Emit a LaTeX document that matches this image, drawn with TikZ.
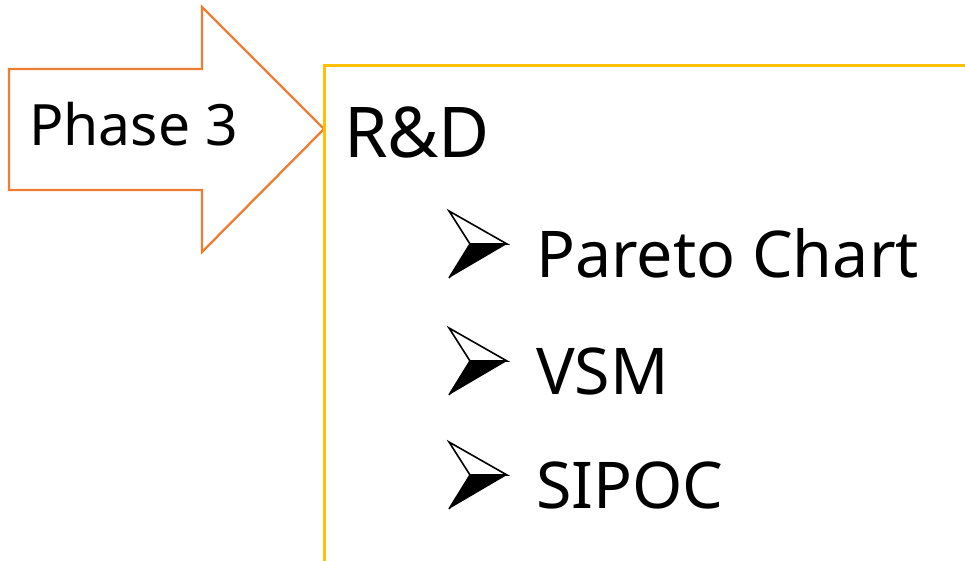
\documentclass[tikz,border=0pt]{standalone}
\usepackage{fontspec}
\setmainfont{Noto Sans}
\definecolor{phaseorange}{HTML}{ED7D31}
\definecolor{panelgold}{HTML}{FFC000}
\begin{document}
\begin{tikzpicture}[x=1pt,y=-1pt,
  phasetxt/.style={anchor=base west,inner sep=0pt,font=\fontsize{57}{60}\selectfont},
  headtxt/.style={anchor=base west,inner sep=0pt,font=\fontsize{70}{74}\selectfont},
  itemtxt/.style={anchor=base west,inner sep=0pt,font=\fontsize{64.5}{68}\selectfont},
  bullet/.pic={
    \draw[line width=1.6pt,line join=miter] (0,-33) -- (58,0) -- (21,0) -- cycle;
    \fill[black] (21,0) -- (58,0) -- (0,34) -- cycle;
    \draw[line width=1.6pt,line join=miter] (21,0) -- (0,34);
  }]
  \useasboundingbox (0,0) rectangle (965,561);

  % block arrow
  \draw[phaseorange,line width=2.3pt,line join=miter]
    (9,69) -- (202,69) -- (202,7) -- (324,129) -- (202,252) -- (202,190) -- (9,190) -- cycle;
  \node[phasetxt] (phase) at (29,146) {Phase 3};

  % panel border
  \coordinate (pTR) at (965,66);
  \coordinate (pBL) at (324,561);
  \draw[panelgold,line width=3pt] (pBL) |- (pTR);

  \node[headtxt] (rd) at (344,158) {R\&D};

  \pic at (449,244) {bullet};
  \node[itemtxt] (pareto) at (536,277) {Pareto Chart};
  \pic at (449,361) {bullet};
  \node[itemtxt] (vsm) at (536,394) {VSM};
  \pic at (449,475) {bullet};
  \node[itemtxt] (sipoc) at (536,508) {SIPOC};
\end{tikzpicture}
\end{document}
